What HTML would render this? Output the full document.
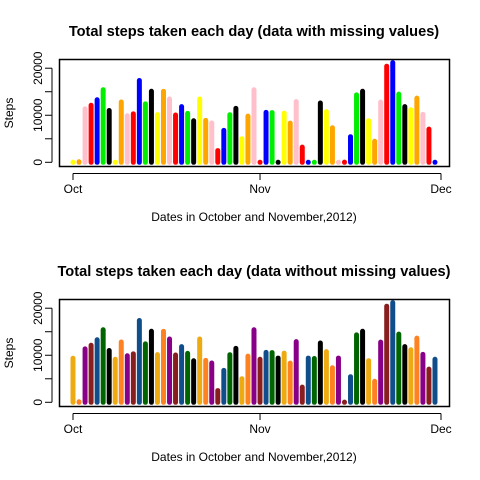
<!DOCTYPE html>
<html><head><meta charset="utf-8"><style>
html,body{margin:0;padding:0;background:#fff}
svg{display:block;font-family:"Liberation Sans",Arial,sans-serif}
</style></head><body>
<svg id="chart" width="480" height="480" viewBox="0 0 480 480"></svg>
<script>
const dayLabels = ["Oct","Nov","Dec"];
const dayTickIdx = [0,31,61];
const yTicks = [0,5000,10000,15000,20000];
const yTickLabels = ["0","","10000","","20000"];
const stepsRaw = [0,126,11352,12116,13294,15420,11015,0,12811,9900,10304,17382,12426,15098,10139,15084,13452,10056,11829,10395,8821,13460,8918,8355,2492,6778,10119,11458,5018,9819,15414,0,10600,10571,0,10439,8334,12883,3219,0,0,12608,10765,7336,0,41,5441,14339,15110,8841,4472,12787,20427,21194,14478,11834,11162,13646,10183,7047,0];
const stepsImputed = [9350,126,11352,12116,13294,15420,11015,9150,12811,9900,10304,17382,12426,15098,10139,15084,13452,10056,11829,10395,8821,13460,8918,8355,2492,6778,10119,11458,5018,9819,15414,9150,10600,10571,9400,10439,8334,12883,3219,9400,9300,12608,10765,7336,9400,41,5441,14339,15110,8841,4472,12787,20427,21194,14478,11834,11162,13646,10183,7047,9150];
const colorsTop = ["yellow","orange","pink","red","blue","#00ee00","black"];
const colorsBottom = ["#EEAA11","#FF8222","#880088","#881E1E","#104E8B","#006400","black"];

const svg = document.getElementById('chart');
const NS = "http://www.w3.org/2000/svg";
function mk(tag, attrs, parent){const e=document.createElementNS(NS,tag);for(const k in attrs)e.setAttribute(k,attrs[k]);(parent||svg).appendChild(e);return e;}

function panel(off, title, data, cols, key){
  const g = mk('g',{});
  
  
  const x = i => 73 + i*6.033;
  const y = v => off + 162.3 - v*0.004705;
  const t = mk('text',{x:254,y:off+36,'text-anchor':'middle','font-weight':'bold','font-size':'14.6'},g);
  t.textContent = title;
  
  
  data.forEach((v,i)=>{
    const l = mk('line',{x1:x(i),x2:x(i),y1:y(0),y2:y(v),stroke:cols[i%7],'stroke-width':5,'stroke-linecap':'round'},g);
    
    
  });
  const box = mk('rect',{x:59.5,y:off+59.5,width:390,height:107,fill:'none',stroke:'#000','stroke-width':1.5},g);
  
  
  const ya = mk('g',{},g);
  
  
  mk('line',{x1:52,x2:52,y1:y(0),y2:y(20000),stroke:'#000'},ya);
  yTicks.forEach((v,i)=>{
    mk('line',{x1:45,x2:52,y1:y(v),y2:y(v),stroke:'#000'},ya);
    if(yTickLabels[i]){
      const tx = mk('text',{x:0,y:0,'text-anchor':'middle','font-size':'12',transform:`translate(42,${y(v)}) rotate(-90)`},ya);
      tx.textContent = yTickLabels[i];
    }
  });
  const yl = mk('text',{x:0,y:0,'text-anchor':'middle','font-size':'12',transform:`translate(13,${off+113}) rotate(-90)`},g);
  yl.textContent = 'Steps';
  
  
  const xa = mk('g',{},g);
  
  
  mk('line',{x1:x(0),x2:x(61),y1:off+173.5,y2:off+173.5,stroke:'#000'},xa);
  dayTickIdx.forEach((d,i)=>{
    mk('line',{x1:x(d),x2:x(d),y1:off+173.5,y2:off+180,stroke:'#000'},xa);
    const tx = mk('text',{x:x(d),y:off+193,'text-anchor':'middle','font-size':'12'},xa);
    tx.textContent = dayLabels[i];
  });
  const xl = mk('text',{x:254,y:off+221,'text-anchor':'middle','font-size':'12'},g);
  xl.textContent = 'Dates in October and November,2012)';
  
  
}
panel(0,'Total steps taken each day (data with missing values)',stepsRaw,colorsTop,'top');
panel(240,'Total steps taken each day (data without missing values)',stepsImputed,colorsBottom,'bottom');
</script>
</body></html>
